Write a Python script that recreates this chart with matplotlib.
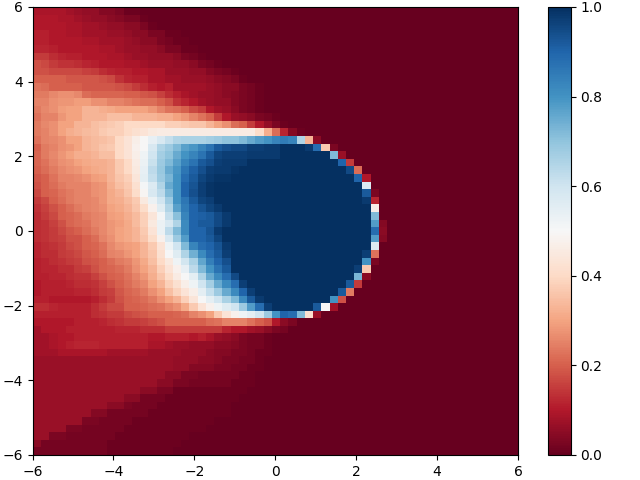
import numpy as np
import matplotlib
matplotlib.use('Agg')
import matplotlib.pyplot as plt

# values in percent, top row first
# blue part: left columns + run of 100 + right columns, up to column "stop"
def rw(left, right=[], stop=0):
    fill = [100] * max(stop - len(left) - len(right), 0)
    r = left + fill + right
    return r + [0] * (59 - len(r))

rows = [
 rw([9,9,9,9,8,7,6,6,4,4,3,1,1]),
 rw([10,10,10,9,9,8,7,6,6,5,4,3,3,1]),
 rw([10,10,10,10,9,9,8,8,7,6,6,5,5,3,1]),
 rw([11,11,10,10,9,9,8,8,8,7,7,6,5,5,3,3,1,1]),
 rw([11,11,10,10,10,10,9,9,8,8,8,7,6,5,5,3,2,1,1]),
 rw([12,12,11,10,10,10,10,10,9,9,8,7,7,6,6,5,3,3,1,1]),
 rw([15,15,13,12,11,11,10,10,10,9,9,8,7,7,6,6,6,5,3,2,1]),
 rw([18,17,15,14,14,13,12,11,10,10,10,9,9,8,7,7,7,6,6,5,3,2,1]),
 rw([18,18,17,17,17,17,16,15,13,12,11,11,10,10,9,9,7,7,7,6,6,4,3,2,1]),
 rw([20,20,20,20,19,19,19,19,18,17,14,12,11,11,9,9,8,8,7,7,7,6,5,4,3,1]),
 rw([23,22,20,20,20,20,19,19,19,19,18,17,15,13,11,10,11,8,8,8,8,7,6,5,5,3,2,1]),
 rw([24,24,26,27,27,26,22,21,21,21,21,20,20,19,18,16,13,11,9,8,7,7,6,5,4,3,2,1]),
 rw([25,25,27,28,28,29,29,27,27,25,25,24,23,22,22,20,18,14,12,10,8,7,6,6,4,3,2,1]),
 rw([24,26,27,29,30,30,33,33,32,31,30,30,30,30,28,25,23,22,20,17,15,10,8,7,5,3,2,1]),
 rw([23,25,25,28,30,30,33,33,33,35,35,35,33,33,33,32,32,30,28,25,23,20,15,10,7,6,5,3,2,1]),
 rw([24,26,27,30,30,33,33,35,36,37,38,40,40,40,40,40,38,38,37,36,36,33,30,27,22,20,15,10,6,3,1]),
 rw([24,25,27,30,32,33,34,35,37,38,38,40,42,43,45,46,46,46,46,46,46,46,46,46,46,46,46,41,32,22,12,4,1]),
 rw([23,25,26,27,30,30,33,34,35,36,40,43,47,50,54,58,62,65,66,66,66,67,68,70,70,72,75,78,80,83,85,83,65,33,5]),
 rw([20,24,25,27,28,30,33,34,36,37,40,43,48,50,58,65,68,72,77,79,83,87,92,94,95,95,97,97,98,98], [98,88,37,3], 37),
 rw([21,24,26,28,30,32,32,33,35,35,40,43,47,52,60,67,70,75,80,83,87,92,96,97,97,97,98,98,98,98], [72,7], 38),
 rw([21,23,25,27,28,30,31,32,32,33,37,40,46,53,61,68,72,77,83,87,92,94,97,98,98,98], [90,15], 39),
 rw([20,22,24,26,27,28,30,31,32,33,37,40,45,54,63,69,75,79,86,91,94,97,98,98,99], [95,22], 40),
 rw([19,20,23,25,25,26,27,29,30,33,36,38,44,55,62,68,73,80,88,92,96,98,99,99], [90,10], 41),
 rw([18,20,22,24,25,25,25,27,28,32,35,37,42,51,57,65,75,80,90,93,97,99], [57], 41),
 rw([17,20,21,23,24,25,25,27,28,31,33,36,41,49,58,63,72,80,90,94,97,99], [92,3], 42),
 rw([15,17,20,22,24,25,25,26,28,31,32,34,37,45,53,60,68,80,86,92,96,97], [98,12], 42),
 rw([14,16,18,20,22,24,25,26,27,30,31,33,36,41,48,56,65,77,85,90,93,96,98], [47], 42),
 rw([13,15,17,20,21,22,24,25,26,29,30,32,34,38,44,51,62,71,83,90,91,92,95,98], [72], 42),
 rw([13,14,16,18,21,22,23,25,26,28,29,31,34,38,45,53,58,65,82,90,92,92,95,98], [78,4], 43),
 rw([13,14,15,17,19,20,22,24,26,28,30,31,33,37,43,53,63,72,82,90,90,93,98], [88,5], 43),
 rw([13,14,15,16,18,18,20,22,25,27,30,31,33,36,41,48,58,68,78,90,90,92,96], [78,4], 43),
 rw([12,13,14,15,17,18,20,21,23,26,28,29,30,33,37,43,52,60,72,83,88,90,93,98], [57], 42),
 rw([12,13,13,15,16,17,19,20,22,25,26,28,30,33,36,42,50,56,65,74,82,88,92,97], [97,23], 42),
 rw([11,12,13,14,15,16,18,19,20,22,24,25,28,31,35,40,45,52,59,66,76,84,90,94], [80,3], 42),
 rw([11,12,12,13,13,15,16,18,20,21,22,24,27,30,33,38,43,48,54,63,72,80,87,92], [97,37], 41),
 rw([11,11,12,12,13,14,14,16,18,20,21,23,25,28,32,36,41,46,50,55,65,75,82,88,95], [73,5], 41),
 rw([10,11,11,11,12,13,13,14,16,18,20,22,24,26,30,33,38,42,47,52,60,67,75,82,88,97], [92,15], 40),
 rw([10,11,11,11,11,12,12,13,15,16,19,21,22,24,27,30,35,39,43,47,55,62,68,75,82,90,97], [92,24], 39),
 rw([11,11,10,10,10,10,10,11,13,15,18,20,21,22,24,27,30,33,38,44,50,55,60,66,72,82,92,98], [80,18], 38),
 rw([13,13,12,11,11,11,11,13,15,17,17,20,20,21,22,23,25,27,31,37,43,48,52,56,60,68,78,88,97], [92,50,8], 37),
 rw([11,11,11,11,11,11,11,13,14,15,15,17,18,19,20,20,20,21,22,25,27,30,37,43,48,52,55,60,68,80,90,88,72,42,7]),
 rw([10,10,10,10,10,11,11,11,12,13,14,15,15,16,17,18,20,20,20,20,20,22,23,25,25,25,23,20,18,10,5,3]),
 rw([8,10,10,10,11,11,11,11,11,11,12,12,12,13,13,13,15,15,15,15,15,15,15,12,10,10,8,7,5,3,2]),
 rw([8,8,9,10,10,11,11,11,11,11,11,11,11,11,10,10,11,11,11,10,11,9,7,6,5,3,2,2,1]),
 rw([8,8,9,10,11,12,12,12,11,11,11,11,11,11,9,9,8,7,7,6,6,6,5,5,4,3,2,2,1]),
 rw([8,8,8,9,9,9,9,9,9,8,8,8,8,8,7,7,7,7,6,6,6,5,4,4,3,3,2,1,1]),
 rw([7,7,7,7,7,7,7,7,7,7,7,7,7,7,7,7,7,6,6,6,5,5,4,3,3,2,2,1]),
 rw([7,7,7,7,7,7,7,7,7,7,7,7,7,7,7,7,7,6,6,4,4,4,3,3,2,2,1,1]),
 rw([7,7,7,7,7,7,7,7,7,7,7,7,7,7,7,7,5,5,3,3,2,2,2,2,2,1,1]),
 rw([7,7,7,7,7,7,7,7,7,7,7,7,7,7,7,5,5,3,3,2,2,2,2,2,1,1,1]),
 rw([7,7,7,7,7,7,7,7,7,7,7,7,7,5,5,3,3,1,1,1,1,1,1,1,1,1]),
 rw([7,7,7,7,7,7,7,7,7,7,7,5,5,2,2,2,1,1,1,1,1,1,1,1,1]),
 rw([7,7,7,7,7,7,7,7,7,5,5,3,2,2,2,1,1,1,1,1,1,1,1,1]),
 rw([7,7,7,7,7,7,7,4,4,2,2,2,2,2,1,1,1,1,1,1,1,1,1,1]),
 rw([7,7,7,7,7,7,3,3,2,2,2,2,1,1,1,1,1,1,1,1,1,1]),
 rw([7,7,7,7,3,3,2,2,2,2,2,1,1,1,1,1,1,1,1,1,1]),
 rw([7,7,3,3,2,2,2,2,2,2,1,1,1,1,1,1,1,1,1]),
 rw([5,2,2,2,2,2,2,2,2,1,1,1,1,1,1,1,1,1]),
 rw([2,2,2,2,2,2,2,2,2,1,1,1,1,1,1,1,1]),
]

Z = np.array(rows) / 100.0

fig = plt.figure(figsize=(6.4, 4.8))
ax = fig.add_axes([32.5/640, 25/480, 485.5/640, 448/480])
cax = fig.add_axes([548.3/640, 25/480, 22.4/640, 448/480])
im = ax.imshow(Z, cmap='RdBu', vmin=0, vmax=1, extent=[-6, 6, -6, 6],
               aspect='auto', interpolation='nearest')
fig.colorbar(im, cax=cax)
fig.savefig('out.png', dpi=100)
